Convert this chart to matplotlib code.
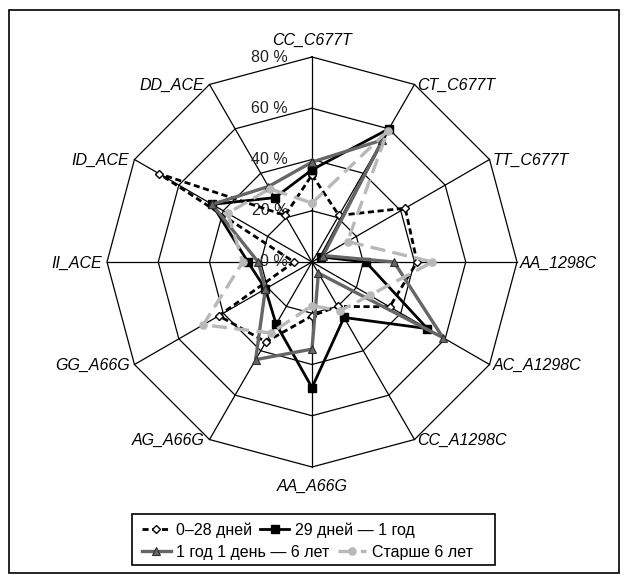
import numpy as np
import matplotlib
matplotlib.use("Agg")
import matplotlib.pyplot as plt
from matplotlib.transforms import offset_copy
from matplotlib.patches import Rectangle

plt.rcParams['font.family'] = ['Liberation Sans', 'DejaVu Sans']

categories = ['CC_C677T', 'CT_C677T', 'TT_C677T', 'AA_1298C', 'AC_A1298C',
              'CC_A1298C', 'AA_A66G', 'AG_A66G', 'GG_A66G', 'II_ACE',
              'ID_ACE', 'DD_ACE']

series_names = ['0–28 дней', '29 дней — 1 год',
                '1 год 1 день — 6 лет', 'Старше 6 лет']

vals_0_28d = [34, 21, 42, 41, 35, 20, 21, 36, 42, 7, 69, 21]
vals_29d_1y = [36, 60, 4, 21, 52, 25, 49, 28, 21, 25, 45, 29]
vals_1y_6y = [39, 55, 5, 32, 59, 5, 34, 44, 21, 21, 45, 34]
vals_over_6y = [23, 59, 16, 47, 26, 22, 17, 32, 49, 27, 38, 33]

ring_values = [20, 40, 60, 80]
tick_values = [0, 20, 40, 60, 80]

W, H = 626, 582
fig = plt.figure(figsize=(W / 100, H / 100), dpi=100)

cx, cy, rad = 312, 262, 205
ax = fig.add_axes([(cx - rad) / W, (H - cy - rad) / H, 2 * rad / W, 2 * rad / H],
                  projection='polar')
ax.set_theta_offset(np.pi / 2)
ax.set_theta_direction(-1)
ax.set_ylim(0, 80)
ax.set_xticks([])
ax.set_yticks([])
ax.grid(False)
ax.spines['polar'].set_visible(False)

n = len(categories)
theta = np.arange(n) * 2 * np.pi / n
theta_c = np.append(theta, theta[0])

# polygonal web
for r in ring_values:
    ax.plot(theta_c, [r] * (n + 1), color='black', lw=0.9, zorder=1, clip_on=False)
for t in theta:
    ax.plot([t, t], [0, 80], color='black', lw=0.9, zorder=1, clip_on=False)

def closed(v):
    return list(v) + [v[0]]

styles = [
    dict(color='black', lw=2.0, ls=(0, (2.2, 1.3)), marker='D', ms=4.3,
         mfc='white', mec='black', mew=1.0),
    dict(color='black', lw=2.0, ls='-', marker='s', ms=5.8,
         mfc='black', mec='black'),
    dict(color='#666666', lw=2.4, ls='-', marker='^', ms=5.5,
         mfc='#666666', mec='#303030', mew=0.8),
    dict(color='#b8b8b8', lw=2.4, ls=(0, (4.5, 2.2)), marker='o', ms=5.2,
         mfc='#b8b8b8', mec='#b8b8b8'),
]
data = [vals_0_28d, vals_29d_1y, vals_1y_6y, vals_over_6y]
handles = []
for vals, st, name in zip(data, styles, series_names):
    h, = ax.plot(theta_c, closed(vals), label=name, zorder=3, clip_on=False, **st)
    handles.append(h)

# radial tick labels
tick_tr = offset_copy(ax.transData, fig=fig, x=-24, y=0, units='dots')
for r in tick_values:
    ax.text(0, r, f'{r} %', transform=tick_tr, ha='right', va='center',
            fontsize=11.5, color='#222222', zorder=2)

# category labels
for t, lab in zip(theta, categories):
    deg = np.degrees(t) % 360
    if deg == 0:
        tr = offset_copy(ax.transData, fig=fig, x=0, y=9, units='dots')
        ax.text(t, 80, lab, transform=tr, ha='center', va='bottom',
                fontsize=11.5, style='italic')
    elif deg == 180:
        tr = offset_copy(ax.transData, fig=fig, x=0, y=-12, units='dots')
        ax.text(t, 80, lab, transform=tr, ha='center', va='top',
                fontsize=11.5, style='italic')
    elif deg < 180:
        tr = offset_copy(ax.transData, fig=fig, x=3, y=-1, units='dots')
        ax.text(t, 80, lab, transform=tr, ha='left', va='center',
                fontsize=11.5, style='italic')
    else:
        tr = offset_copy(ax.transData, fig=fig, x=-5, y=-1, units='dots')
        ax.text(t, 80, lab, transform=tr, ha='right', va='center',
                fontsize=11.5, style='italic')

# legend: two rows inside one framed box
leg_kw = dict(frameon=False, fontsize=11.5, handlelength=1.8, handletextpad=0.35,
              columnspacing=0.5, borderpad=0, borderaxespad=0, ncol=2,
              loc='center left')
leg1 = fig.legend(handles[:2], series_names[:2],
                  bbox_to_anchor=(142 / W, (H - 530) / H), **leg_kw)
leg2 = fig.legend(handles[2:], series_names[2:],
                  bbox_to_anchor=(142 / W, (H - 552) / H), **leg_kw)
fig.add_artist(Rectangle((132 / W, (H - 565) / H), 363 / W, 51 / H,
                         transform=fig.transFigure, fill=False,
                         edgecolor='black', lw=1.2))

# outer frame
fig.add_artist(Rectangle((9 / W, (H - 573) / H), 610 / W, 563 / H,
                         transform=fig.transFigure, fill=False,
                         edgecolor='black', lw=1.2))

fig.savefig('out.png', dpi=100)
